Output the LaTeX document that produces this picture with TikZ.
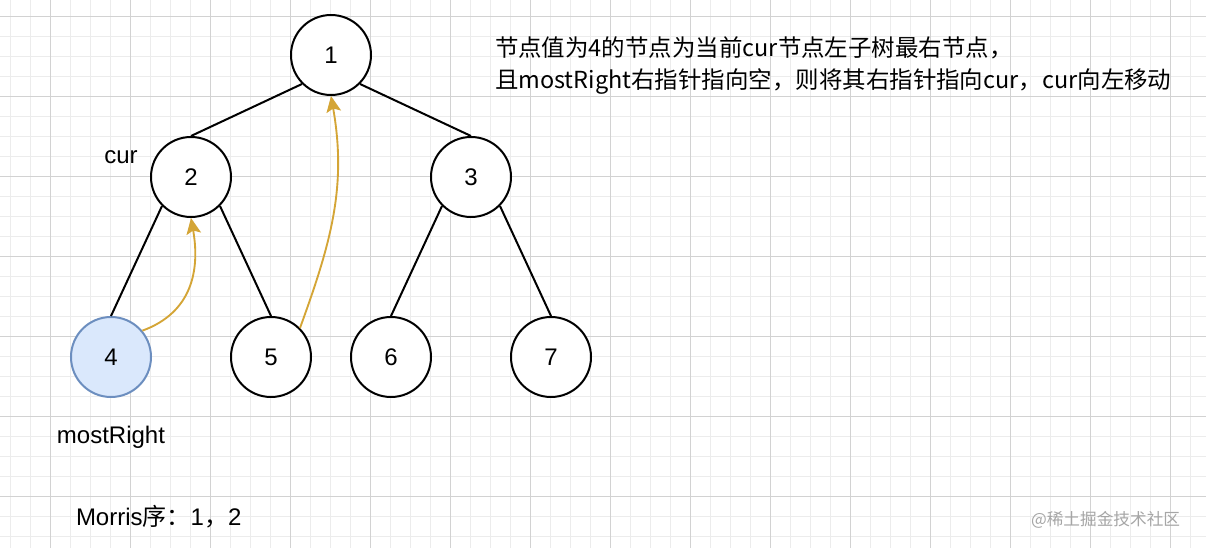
\documentclass[tikz,border=0pt]{standalone}
\usepackage{fontspec}
\setmainfont{Liberation Sans}
\newfontfamily\cjk{Noto Sans CJK SC}
\usetikzlibrary{arrows.meta}
\definecolor{gridmajor}{HTML}{D2D2D2}
\definecolor{gridminor}{HTML}{ECECEC}
\definecolor{goldline}{HTML}{D4A536}
\definecolor{mrfill}{HTML}{DAE8FC}
\definecolor{mrdraw}{HTML}{6C8EBF}

\begin{document}
\begin{tikzpicture}[x=0.75pt, y=-0.75pt, line width=1.5pt,
  treenode/.style={circle, draw=black, fill=white, minimum size=60pt, inner sep=0pt,
    font=\fontsize{18}{21}\selectfont},
  tag/.style={font=\fontsize{18}{21}\selectfont, inner sep=0pt},
  backarrow/.style={draw=goldline, line width=1.4pt, -{Stealth[length=12pt, width=11pt, inset=2.5pt]}}]
  \useasboundingbox (0,0) rectangle (1206,548);
  \fill[white] (0,0) rectangle (1206,548);
  % background grid
  \foreach \gx in {10,30,...,1200} \draw[gridminor, line width=0.75pt] (\gx,0) -- (\gx,548);
  \foreach \gy in {16.5,36.5,...,548} \draw[gridminor, line width=0.75pt] (0,\gy) -- (1206,\gy);
  \foreach \gx in {50,130,...,1200} \draw[gridmajor, line width=0.75pt] (\gx,0) -- (\gx,548);
  \foreach \gy in {16.5,96.5,...,548} \draw[gridmajor, line width=0.75pt] (0,\gy) -- (1206,\gy);
  % tree
  \node[treenode] (n1) at (331,55) {1};
  \node[treenode] (n2) at (191,177) {2};
  \node[treenode] (n3) at (471,177) {3};
  \node[treenode, fill=mrfill, draw=mrdraw] (n4) at (111,357) {4};
  \node[treenode] (n5) at (271,357) {5};
  \node[treenode] (n6) at (391,357) {6};
  \node[treenode] (n7) at (551,357) {7};
  \draw (n1.south west) -- (n2.north);
  \draw (n1.south east) -- (n3.north);
  \draw (n2.south west) -- (n4.north);
  \draw (n2.south east) -- (n5.north);
  \draw (n3.south west) -- (n6.north);
  \draw (n3.south east) -- (n7.north);
  % threads back up
  \draw[backarrow] (n4.40) to[out=20, in=-80, looseness=1.1] (n2.south);
  \draw[backarrow] (n5.45) to[out=70, in=-80, looseness=1] (n1.south);
  % labels
  \node[tag] (curlbl) at (121,157) {cur};
  \node[tag] (mrlbl) at (111,437) {mostRight};
  \node[tag, anchor=west] (order) at (75,517) {Morris{\cjk 序：}1{\cjk ，}2};
  \node[tag, anchor=west, align=left, font=\cjk\fontsize{17.6}{24}\selectfont] (note) at (494,66)
    {节点值为4的节点为当前cur节点左子树最右节点，\\且mostRight右指针指向空，则将其右指针指向cur，cur向左移动};
  \node[tag, anchor=west, text=gray!70, font=\cjk\fontsize{12.5}{15}\selectfont] (mark) at (1030,520)
    {@稀土掘金技术社区};
\end{tikzpicture}
\end{document}
